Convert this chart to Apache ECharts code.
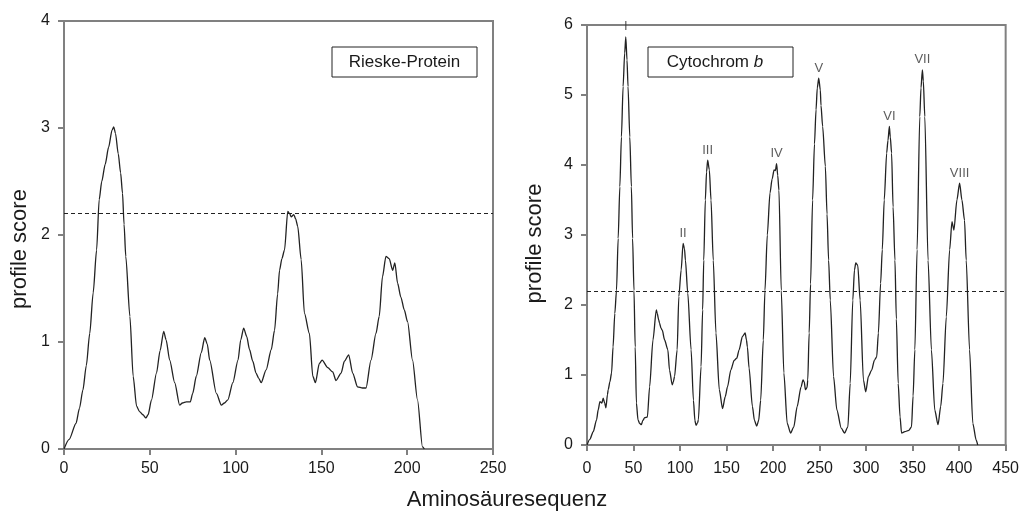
<!DOCTYPE html>
<html>
<head>
<meta charset="utf-8">
<script src="https://cdn.jsdelivr.net/npm/echarts@6/dist/echarts.min.js"></script>
<style>
html,body{margin:0;padding:0;background:#fff;}
#chart{width:1022px;height:517px;}
</style>
</head>
<body>
<div id="chart"></div>
<script>
// ---- Data ----
const rieskeX = [0,3,7,9,11,13,15,17,19,20.5,22,24,26,28,29,30,31.6,33,34.1,35,36,38.4,40.3,42.3,44,46,47.7,49,51,53.9,56,58.1,59.5,61.6,64.5,67.4,69,71.3,73.6,75,77.1,80,82,83.5,84.9,88.8,91.7,93.5,95.5,98.4,101.4,103,104.7,106.5,108.1,110,111.9,113.5,114.9,117.8,120.8,122.7,124.5,125.6,127,128.5,130.4,131.5,132.4,133.9,135,136.2,138.2,140.1,143,145,146.5,148.8,150.4,153.7,156.6,158.5,161.5,163.4,165.9,168.2,171.1,174,176,178.9,181.8,183.7,185.6,187.6,189.5,191.5,192.8,194.4,196.3,198.3,200.2,203.1,206,208.9,210];
const rieskeY = [0,0.09,0.24,0.38,0.55,0.78,1.08,1.46,1.86,2.33,2.5,2.66,2.82,2.98,3.01,2.95,2.76,2.58,2.39,2.1,1.8,1.24,0.68,0.4,0.35,0.32,0.29,0.32,0.46,0.71,0.92,1.1,1.02,0.83,0.62,0.41,0.43,0.44,0.44,0.52,0.68,0.9,1.04,0.98,0.83,0.52,0.41,0.43,0.46,0.62,0.83,1.02,1.13,1.05,0.93,0.82,0.71,0.66,0.62,0.74,0.93,1.11,1.45,1.67,1.78,1.86,2.22,2.2,2.17,2.19,2.15,2.08,1.77,1.27,1.08,0.68,0.62,0.8,0.83,0.76,0.72,0.64,0.71,0.82,0.88,0.71,0.58,0.57,0.57,0.83,1.08,1.24,1.61,1.8,1.78,1.67,1.74,1.55,1.42,1.3,1.19,0.83,0.46,0.02,0];

const cytX = [0,3,6.7,10.3,12,13.9,16,17.4,19,20.3,22,22.8,24.6,26.4,28,29.9,31.7,33.5,35.3,37,38.8,40.5,41.7,43,44.1,46,47.7,49,50.5,51.8,53.1,54.8,56.5,58.4,60,62,64.9,67.3,70.9,74.5,75.5,77,78,79.5,80.9,83.4,86.9,88.7,91.6,92.8,94.1,96.9,98.7,101.2,103.3,104.8,105.8,108.3,111.9,114.4,116,117.2,119,119.7,122.6,124.3,125.5,127.2,128.5,129.7,131.5,133.3,135.7,138.6,142.2,145.7,148.6,151,154.6,158.2,161,163.5,167.1,170,171.4,172.4,174.2,177.8,180,182.4,184.5,186.7,189.5,191.3,193.8,196.7,199,201.1,202.5,203.8,205,206.3,208.8,211.6,215.2,218.8,222.3,225.9,230.1,232.2,233.5,234.8,236.5,237.3,238.8,240.3,242.5,244.5,246.2,247.5,249.1,250.8,251.5,253.3,256.2,258,259.7,261.5,265,268.6,273.3,276.8,280.4,282.9,285.7,287.5,288.9,291,293.6,297.1,299.6,302.5,306,308.9,311.4,313.2,315.6,317.4,319.5,322.1,323.5,325,326,327.4,329,331,332.5,334.5,336.5,338.1,341.7,345.9,348.8,350.5,352.4,354.8,357.7,359,360.5,361.5,363.1,366.6,370.2,373.8,377.3,380.2,382.6,386.2,389.8,392.3,394.4,397.6,400.5,403,405.8,407.6,411.2,414.7,418.3,420];
const cytY = [0,0.08,0.19,0.36,0.5,0.62,0.6,0.67,0.6,0.53,0.72,0.79,0.9,1.03,1.4,1.88,2.21,2.95,3.69,4.4,5.12,5.6,5.83,5.5,5.12,4.4,3.69,2.95,2.21,1.4,0.6,0.36,0.31,0.29,0.35,0.39,0.4,0.83,1.5,1.93,1.88,1.79,1.74,1.67,1.64,1.5,1.36,1.07,0.86,0.9,0.98,1.36,2.12,2.5,2.88,2.8,2.64,2.17,1.36,0.64,0.35,0.28,0.32,0.36,1.12,1.93,2.64,3.5,3.9,4.07,3.93,3.5,2.64,1.6,0.79,0.52,0.69,0.83,1.07,1.21,1.24,1.36,1.55,1.6,1.5,1.4,1.1,0.55,0.35,0.27,0.35,0.64,1.5,2.21,3.0,3.6,3.8,3.93,3.92,4.02,3.85,3.64,2.21,1.03,0.31,0.17,0.26,0.55,0.83,0.93,0.9,0.79,0.82,0.93,1.6,2.3,3.5,4.3,4.79,5.1,5.24,5.07,4.85,4.55,3.98,3.3,2.64,2.07,0.98,0.5,0.24,0.17,0.26,0.88,2.07,2.5,2.6,2.57,2.07,0.93,0.76,0.98,1.07,1.21,1.26,1.6,2.31,2.79,3.5,4.17,4.35,4.55,4.4,4.17,3.4,2.64,1.8,0.88,0.4,0.17,0.19,0.21,0.26,0.7,1.36,2.79,4.69,5.1,5.36,5.2,4.69,2.64,1.36,0.5,0.29,0.55,0.88,1.83,2.79,3.19,3.07,3.5,3.74,3.5,3.21,2.64,1.36,0.31,0.07,0];

const peakLabels = ['I','II','III','IV','V','VI','VII','VIII'];
const peakX = [41.7,103.3,129.7,203.8,249.1,325,360.5,400.5];
const peakY = [5.83,2.88,4.07,4.02,5.24,4.55,5.36,3.74];

const threshold = 2.2;
const leftXTicks = {min:0, max:250, interval:50};
const leftYTicks = {min:0, max:4, interval:1};
const rightXTicks = {min:0, max:450, interval:50};
const rightYTicks = {min:0, max:6, interval:1};

// ---- Chart ----
const FONT = '"Liberation Sans", Arial, Helvetica, sans-serif';
const AXIS_GRAY = '#808080';
const TEXT = '#1a1a1a';

const zip = (xs, ys) => xs.map((x, i) => [x, ys[i]]);

function xAxisCfg(idx, t, margin, fs) {
  return {
    type: 'value', gridIndex: idx, min: t.min, max: t.max, interval: t.interval,
    axisLine: {show: true, onZero: false, lineStyle: {color: AXIS_GRAY, width: 2}},
    axisTick: {show: true, inside: false, length: 6, lineStyle: {color: AXIS_GRAY, width: 2}},
    axisLabel: {color: TEXT, fontSize: fs, fontFamily: FONT, margin: margin},
    splitLine: {show: false}
  };
}
function yAxisCfg(idx, t, margin, fs) {
  return {
    type: 'value', gridIndex: idx, min: t.min, max: t.max, interval: t.interval,
    axisLine: {show: true, onZero: false, lineStyle: {color: AXIS_GRAY, width: 2}},
    axisTick: {show: true, inside: false, length: 6, lineStyle: {color: AXIS_GRAY, width: 2}},
    axisLabel: {color: TEXT, fontSize: fs, fontFamily: FONT, margin: margin},
    splitLine: {show: false}
  };
}

const dashLine = {
  silent: true, symbol: ['none', 'none'], label: {show: false},
  lineStyle: {color: '#222', width: 1, type: [4, 3]},
  data: [{yAxis: threshold}]
};

const option = {
  animation: false,
  backgroundColor: '#fff',
  grid: [
    {left: 64, top: 21, width: 429, height: 428, show: true, borderColor: AXIS_GRAY, borderWidth: 2, backgroundColor: 'transparent'},
    {left: 587, top: 25, width: 421, height: 420, show: true, borderColor: AXIS_GRAY, borderWidth: 2, backgroundColor: 'transparent'}
  ],
  xAxis: [xAxisCfg(0, leftXTicks, 12, 16), xAxisCfg(1, rightXTicks, 16, 16)],
  yAxis: [yAxisCfg(0, leftYTicks, 14, 16), yAxisCfg(1, rightYTicks, 14, 16)],
  series: [
    {
      type: 'line', xAxisIndex: 0, yAxisIndex: 0, data: zip(rieskeX, rieskeY),
      showSymbol: false, smooth: 0.25, smoothMonotone: 'x',
      lineStyle: {color: '#222', width: 1.3},
      markLine: dashLine
    },
    {
      type: 'line', xAxisIndex: 1, yAxisIndex: 1, data: zip(cytX, cytY),
      showSymbol: false, smooth: 0.25, smoothMonotone: 'x',
      lineStyle: {color: '#222', width: 1.3},
      markLine: dashLine
    },
    {
      type: 'scatter', xAxisIndex: 1, yAxisIndex: 1, symbol: 'circle', symbolSize: 1, silent: true,
      itemStyle: {color: 'rgba(0,0,0,0)'},
      data: peakX.map((x, i) => ({value: [x, peakY[i]], name: peakLabels[i]})),
      label: {show: true, position: 'top', distance: 3, formatter: p => p.name,
        color: '#333', fontSize: 13, fontFamily: FONT},
      z: 5
    }
  ],
  graphic: [
    {type: 'rect', shape: {x: 332, y: 47, width: 145, height: 30}, style: {fill: '#fff', stroke: '#222', lineWidth: 1}, z: 10},
    {type: 'text', x: 404.5, y: 62, z: 11, style: {text: 'Rieske-Protein', font: '17px ' + FONT, fill: TEXT, align: 'center', verticalAlign: 'middle'}},
    {type: 'rect', shape: {x: 648, y: 47, width: 145, height: 30}, style: {fill: '#fff', stroke: '#222', lineWidth: 1}, z: 10},
    {type: 'text', x: 715, y: 62, z: 11, style: {
      text: '{n|Cytochrom }{i|b}', align: 'center', verticalAlign: 'middle',
      rich: {
        n: {fontSize: 17, fontFamily: FONT, fill: TEXT, color: TEXT},
        i: {fontSize: 17, fontFamily: FONT, fontStyle: 'italic', fill: TEXT, color: TEXT}
      }
    }},
    {type: 'text', x: 19.5, y: 249, rotation: Math.PI / 2, style: {text: 'profile score', font: '22px ' + FONT, fill: TEXT, align: 'center', verticalAlign: 'middle'}},
    {type: 'text', x: 534.5, y: 243.5, rotation: Math.PI / 2, style: {text: 'profile score', font: '22px ' + FONT, fill: TEXT, align: 'center', verticalAlign: 'middle'}},
    {type: 'text', x: 507, y: 500, style: {text: 'Aminosäuresequenz', font: '22px ' + FONT, fill: TEXT, align: 'center', verticalAlign: 'middle'}}
  ]
};

const chart = echarts.init(document.getElementById('chart'), null, {renderer: 'canvas'});
chart.setOption(option);
</script>
</body>
</html>
